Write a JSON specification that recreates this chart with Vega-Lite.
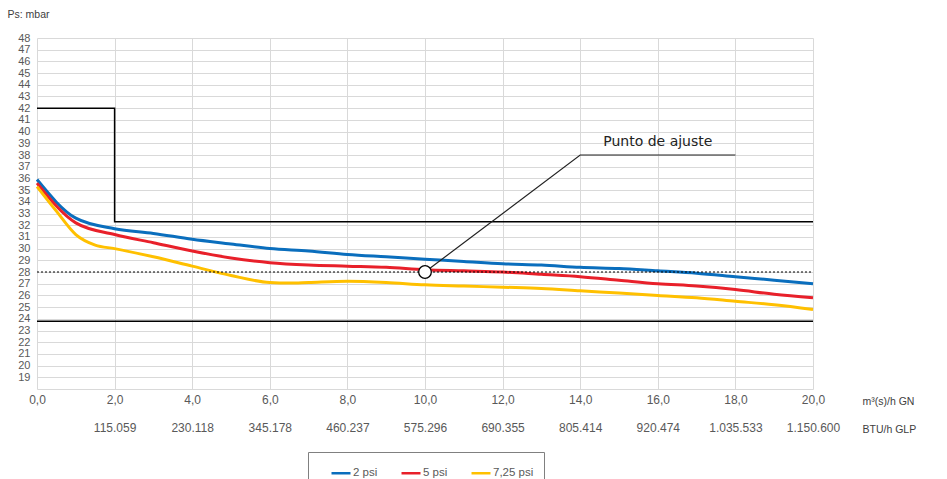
{
  "$schema": "https://vega.github.io/schema/vega-lite/v6.json",
  "width": 776,
  "height": 351,
  "autosize": {"type": "none"},
  "padding": {"left": 37, "top": 38, "right": 134, "bottom": 90},
  "background": "white",
  "config": {
    "font": "Liberation Sans",
    "view": {"stroke": null},
    "axis": {"gridColor": "#d9d9d9", "gridWidth": 1, "ticks": false, "labelColor": "#595959", "titleColor": "#404040", "titleFontWeight": "normal"}
  },
  "datasets": {
    "series": [
      {"q": 0, "p": 35.9, "serie": "2 psi"}, {"q": 1, "p": 32.6, "serie": "2 psi"}, {"q": 2, "p": 31.7, "serie": "2 psi"}, {"q": 3, "p": 31.3, "serie": "2 psi"}, {"q": 4, "p": 30.8, "serie": "2 psi"}, {"q": 5, "p": 30.4, "serie": "2 psi"}, {"q": 6, "p": 30.0, "serie": "2 psi"}, {"q": 7, "p": 29.8, "serie": "2 psi"}, {"q": 8, "p": 29.5, "serie": "2 psi"}, {"q": 9, "p": 29.3, "serie": "2 psi"}, {"q": 10, "p": 29.1, "serie": "2 psi"}, {"q": 11, "p": 28.9, "serie": "2 psi"}, {"q": 12, "p": 28.7, "serie": "2 psi"}, {"q": 13, "p": 28.6, "serie": "2 psi"}, {"q": 14, "p": 28.4, "serie": "2 psi"}, {"q": 15, "p": 28.3, "serie": "2 psi"}, {"q": 16, "p": 28.1, "serie": "2 psi"}, {"q": 17, "p": 27.9, "serie": "2 psi"}, {"q": 18, "p": 27.6, "serie": "2 psi"}, {"q": 19, "p": 27.3, "serie": "2 psi"}, {"q": 20, "p": 27.0, "serie": "2 psi"},
      {"q": 0, "p": 35.6, "serie": "5 psi"}, {"q": 1, "p": 32.2, "serie": "5 psi"}, {"q": 2, "p": 31.2, "serie": "5 psi"}, {"q": 3, "p": 30.5, "serie": "5 psi"}, {"q": 4, "p": 29.8, "serie": "5 psi"}, {"q": 5, "p": 29.2, "serie": "5 psi"}, {"q": 6, "p": 28.8, "serie": "5 psi"}, {"q": 7, "p": 28.6, "serie": "5 psi"}, {"q": 8, "p": 28.5, "serie": "5 psi"}, {"q": 9, "p": 28.4, "serie": "5 psi"}, {"q": 10, "p": 28.2, "serie": "5 psi"}, {"q": 11, "p": 28.1, "serie": "5 psi"}, {"q": 12, "p": 28.0, "serie": "5 psi"}, {"q": 13, "p": 27.8, "serie": "5 psi"}, {"q": 14, "p": 27.6, "serie": "5 psi"}, {"q": 15, "p": 27.3, "serie": "5 psi"}, {"q": 16, "p": 27.0, "serie": "5 psi"}, {"q": 17, "p": 26.8, "serie": "5 psi"}, {"q": 18, "p": 26.5, "serie": "5 psi"}, {"q": 19, "p": 26.1, "serie": "5 psi"}, {"q": 20, "p": 25.8, "serie": "5 psi"},
      {"q": 0, "p": 35.3, "serie": "7,25 psi"}, {"q": 0.5, "p": 33.2, "serie": "7,25 psi"}, {"q": 1, "p": 31.2, "serie": "7,25 psi"}, {"q": 1.5, "p": 30.3, "serie": "7,25 psi"}, {"q": 2, "p": 30.0, "serie": "7,25 psi"}, {"q": 3, "p": 29.3, "serie": "7,25 psi"}, {"q": 4, "p": 28.5, "serie": "7,25 psi"}, {"q": 5, "p": 27.7, "serie": "7,25 psi"}, {"q": 6, "p": 27.1, "serie": "7,25 psi"}, {"q": 6.5, "p": 27.05, "serie": "7,25 psi"}, {"q": 7, "p": 27.1, "serie": "7,25 psi"}, {"q": 8, "p": 27.2, "serie": "7,25 psi"}, {"q": 9, "p": 27.1, "serie": "7,25 psi"}, {"q": 10, "p": 26.9, "serie": "7,25 psi"}, {"q": 11, "p": 26.8, "serie": "7,25 psi"}, {"q": 12, "p": 26.7, "serie": "7,25 psi"}, {"q": 13, "p": 26.6, "serie": "7,25 psi"}, {"q": 14, "p": 26.4, "serie": "7,25 psi"}, {"q": 15, "p": 26.2, "serie": "7,25 psi"}, {"q": 16, "p": 26.0, "serie": "7,25 psi"}, {"q": 17, "p": 25.8, "serie": "7,25 psi"}, {"q": 18, "p": 25.5, "serie": "7,25 psi"}, {"q": 19, "p": 25.2, "serie": "7,25 psi"}, {"q": 20, "p": 24.8, "serie": "7,25 psi"}
    ],
    "limit": [
      {"q": 0, "p": 42, "o": 1}, {"q": 2, "p": 42, "o": 2}, {"q": 2, "p": 32.3, "o": 3}, {"q": 20, "p": 32.3, "o": 4}
    ],
    "lower": [{"q": 0, "p": 23.8}, {"q": 20, "p": 23.8}],
    "setpoint": [{"q": 0, "p": 28}, {"q": 20, "p": 28}],
    "leader": [{"q": 10, "p": 28, "o": 1}, {"q": 14, "p": 38, "o": 2}, {"q": 18, "p": 38, "o": 3}],
    "point": [{"q": 10, "p": 28}],
    "label": [{"q": 16, "p": 38.75, "t": "Punto de ajuste"}]
  },
  "layer": [
    {
      "data": {"name": "series"},
      "mark": {"type": "line", "interpolate": "monotone", "strokeWidth": 3},
      "encoding": {
        "x": {
          "field": "q", "type": "quantitative",
          "scale": {"domain": [0, 20], "nice": false, "zero": false},
          "axis": {
            "values": [0, 2, 4, 6, 8, 10, 12, 14, 16, 18, 20],
            "tickCount": 11,
            "labelExpr": "[replace(format(datum.value, '.1f'), '.', ','), ['', '115.059', '230.118', '345.178', '460.237', '575.296', '690.355', '805.414', '920.474', '1.035.533', '1.150.600'][round(datum.value / 2)]]",
            "labelFontSize": 12,
            "labelLineHeight": 28,
            "labelBaseline": "top",
            "labelPadding": 5,
            "labelFlush": false,
            "labelOverlap": false,
            "domainColor": "#d9d9d9",
            "title": ["m³(s)/h GN", "BTU/h GLP"],
            "titleFontSize": 10.5,
            "titleLineHeight": 28,
            "titleAlign": "left",
            "titleBaseline": "alphabetic",
            "titleX": 825,
            "titleY": 15
          }
        },
        "y": {
          "field": "p", "type": "quantitative",
          "scale": {"domain": [18, 48], "nice": false, "zero": false},
          "axis": {
            "values": [19, 20, 21, 22, 23, 24, 25, 26, 27, 28, 29, 30, 31, 32, 33, 34, 35, 36, 37, 38, 39, 40, 41, 42, 43, 44, 45, 46, 47, 48],
            "tickCount": 31,
            "labelFontSize": 11,
            "labelPadding": 7,
            "labelOverlap": false,
            "domain": false,
            "title": "Ps: mbar",
            "titleAngle": 0,
            "titleAlign": "left",
            "titleBaseline": "alphabetic",
            "titleFontSize": 10.5,
            "titleX": -30,
            "titleY": -21
          }
        },
        "color": {
          "field": "serie", "type": "nominal",
          "scale": {"domain": ["2 psi", "5 psi", "7,25 psi"], "range": ["#0a6ebd", "#e8202a", "#ffc000"]},
          "legend": {
            "title": " ",
            "titleOrient": "left",
            "titlePadding": 12,
            "orient": "none",
            "direction": "horizontal",
            "legendX": 271,
            "legendY": 414,
            "padding": 10,
            "strokeColor": "#808080",
            "fillColor": "white",
            "symbolType": "stroke",
            "symbolSize": 361,
            "symbolStrokeWidth": 2.5,
            "labelFontSize": 11.5,
            "labelColor": "#595959",
            "labelOffset": 1,
            "columnPadding": 18
          }
        }
      }
    },
    {
      "data": {"name": "limit"},
      "mark": {"type": "line", "color": "black", "strokeWidth": 1.5},
      "encoding": {
        "x": {"field": "q", "type": "quantitative"},
        "y": {"field": "p", "type": "quantitative"},
        "order": {"field": "o"}
      }
    },
    {
      "data": {"name": "lower"},
      "mark": {"type": "line", "color": "black", "strokeWidth": 1.5},
      "encoding": {
        "x": {"field": "q", "type": "quantitative"},
        "y": {"field": "p", "type": "quantitative"}
      }
    },
    {
      "data": {"name": "setpoint"},
      "mark": {"type": "line", "color": "black", "strokeWidth": 1, "strokeDash": [2, 2]},
      "encoding": {
        "x": {"field": "q", "type": "quantitative"},
        "y": {"field": "p", "type": "quantitative"}
      }
    },
    {
      "data": {"name": "leader"},
      "mark": {"type": "line", "color": "#222222", "strokeWidth": 1.2},
      "encoding": {
        "x": {"field": "q", "type": "quantitative"},
        "y": {"field": "p", "type": "quantitative"},
        "order": {"field": "o"}
      }
    },
    {
      "data": {"name": "point"},
      "mark": {"type": "point", "shape": "circle", "filled": true, "fill": "white", "stroke": "black", "strokeWidth": 1.3, "size": 160, "opacity": 1},
      "encoding": {
        "x": {"field": "q", "type": "quantitative"},
        "y": {"field": "p", "type": "quantitative"}
      }
    },
    {
      "data": {"name": "label"},
      "mark": {"type": "text", "font": "DejaVu Sans", "fontSize": 14, "color": "#222222", "align": "center", "baseline": "alphabetic"},
      "encoding": {
        "x": {"field": "q", "type": "quantitative"},
        "y": {"field": "p", "type": "quantitative"},
        "text": {"field": "t"}
      }
    }
  ]
}
